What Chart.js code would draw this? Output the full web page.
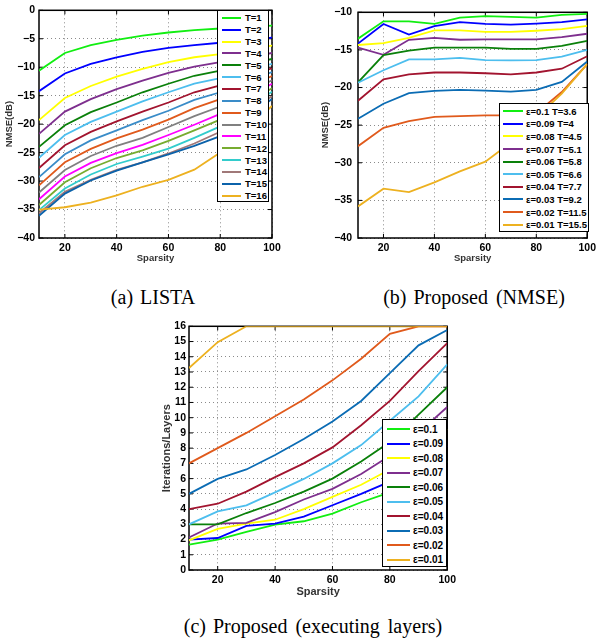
<!DOCTYPE html>
<html>
<head>
<meta charset="utf-8">
<script src="https://cdn.jsdelivr.net/npm/chart.js@4.4.1/dist/chart.umd.min.js"></script>
<style>
    body { margin: 0; background: #fff; }
    #page { position: relative; width: 600px; height: 644px; overflow: hidden; }
    canvas { position: absolute; }
    .legend {
        position: absolute; background: #fff; border: 1.5px solid #000;
        font-family: "Liberation Sans", Arial, sans-serif; font-weight: bold; color: #000;
        box-sizing: border-box;
    }
    .legend .item { display: flex; align-items: center; white-space: nowrap; }
    .legend .swatch { display: inline-block; height: 2px; }
    .cap {
        position: absolute; font-family: "Liberation Serif", "Times New Roman", serif;
        font-size: 20px; line-height: 23px; color: #000; white-space: nowrap; transform: translateX(-50%);
        word-spacing: 3px;
    }
    .cap b { font-weight: normal; margin-right: 7px; }
</style>
</head>
<body>
<div id="page">
    <canvas id="chartA" width="300" height="268" style="left:0;top:0"></canvas>
    <canvas id="chartB" width="281" height="268" style="left:319px;top:0"></canvas>
    <canvas id="chartC" width="310" height="286" style="left:150px;top:317px"></canvas>
    <div class="legend" id="legendA" style="left:217px;top:10px;width:52px;height:192px"></div>
    <div class="legend" id="legendB" style="left:499px;top:103px;width:90px;height:129px"></div>
    <div class="legend" id="legendC" style="left:382px;top:419px;width:65px;height:148px"></div>
    <div class="cap" style="left:153px;top:286px"><b>(a)</b>LISTA</div>
    <div class="cap" style="left:474px;top:286px"><b>(b)</b>Proposed (NMSE)</div>
    <div class="cap" style="left:313px;top:615px"><b>(c)</b>Proposed (executing layers)</div>
</div>
<script>
// sparsity levels on the x axis
const sparsity = [10, 20, 30, 40, 50, 60, 70, 80, 90, 100];
const xTicks = [20, 40, 60, 80, 100];

// (a) LISTA, NMSE per number of layers T
const listaLabels = ['T=1', 'T=2', 'T=3', 'T=4', 'T=5', 'T=6', 'T=7', 'T=8',
    'T=9', 'T=10', 'T=11', 'T=12', 'T=13', 'T=14', 'T=15', 'T=16'];
const listaColors = ['#11ee11', '#0000ff', '#ffff00', '#7e2f8e', '#0a800a', '#4dbeee', '#a2142f', '#3a8cc8',
    '#e05a1c', '#808080', '#ff00ff', '#77ac30', '#33cccc', '#a07878', '#0b62aa', '#edb120'];
const listaNmse = [
    [-10.6, -7.5, -6.1, -5.2, -4.45, -3.9, -3.5, -3.2, -2.9, -2.7],
    [-14.2, -11.1, -9.4, -8.25, -7.3, -6.6, -6.1, -5.7, -5.2, -4.8],
    [-19.3, -15.4, -13.3, -11.65, -10.3, -9.1, -8.25, -7.7, -6.9, -6.2],
    [-21.7, -17.8, -15.6, -13.85, -12.35, -11.0, -9.9, -9.1, -8.3, -7.5],
    [-24.0, -20.2, -17.9, -16.2, -14.4, -12.9, -11.5, -10.6, -9.5, -8.55],
    [-25.9, -21.9, -19.6, -17.8, -16.0, -14.4, -12.9, -11.9, -10.6, -9.4],
    [-27.7, -23.7, -21.35, -19.5, -17.8, -16.2, -14.4, -13.2, -11.6, -10.2],
    [-29.3, -25.3, -22.85, -21.1, -19.3, -17.65, -15.75, -14.4, -12.6, -10.85],
    [-30.75, -26.7, -24.35, -22.5, -20.95, -19.2, -17.2, -15.6, -13.6, -11.55],
    [-32.0, -28.05, -25.6, -23.8, -22.4, -20.5, -18.6, -16.9, -14.6, -12.3],
    [-33.2, -29.2, -26.8, -25.1, -23.65, -21.9, -20.1, -18.2, -15.5, -12.9],
    [-34.2, -30.2, -27.75, -25.95, -24.6, -22.95, -21.1, -19.2, -16.4, -13.7],
    [-35.1, -31.3, -28.85, -27.0, -25.7, -24.3, -22.4, -20.4, -17.4, -14.3],
    [-35.65, -31.9, -29.8, -28.05, -26.7, -25.15, -23.4, -21.35, -18.3, -15.1],
    [-36.1, -32.2, -29.9, -28.15, -26.7, -25.3, -23.8, -22.1, -18.8, -15.6],
    [-35.0, -34.6, -33.8, -32.5, -31.0, -29.8, -28.0, -25.0, -21.0, -16.8]
];

// (b) proposed, NMSE per threshold epsilon
const epsLabelsB = ['\u03b5=0.1 T=3.6', '\u03b5=0.09 T=4', '\u03b5=0.08 T=4.5', '\u03b5=0.07 T=5.1', '\u03b5=0.06 T=5.8',
    '\u03b5=0.05 T=6.6', '\u03b5=0.04 T=7.7', '\u03b5=0.03 T=9.2', '\u03b5=0.02 T=11.5', '\u03b5=0.01 T=15.5'];
const epsColors = ['#11ee11', '#0000ff', '#ffff00', '#7e2f8e', '#0a800a', '#4dbeee', '#a2142f', '#0b6cb4', '#e05a1c', '#edb120'];
const proposedNmse = [
    [-13.5, -11.2, -11.2, -11.55, -10.7, -10.5, -10.6, -10.7, -10.35, -10.2],
    [-14.15, -11.55, -12.95, -11.85, -11.3, -11.55, -11.65, -11.5, -11.3, -10.95],
    [-14.35, -14.1, -13.4, -12.4, -12.4, -12.6, -12.6, -12.45, -12.25, -11.8],
    [-14.7, -15.65, -13.65, -13.4, -13.65, -13.6, -13.6, -13.6, -13.3, -12.85],
    [-19.3, -15.7, -15.1, -14.7, -14.7, -14.7, -14.85, -14.85, -14.45, -13.8],
    [-19.35, -17.7, -16.25, -16.25, -16.05, -16.35, -16.4, -16.35, -15.9, -15.0],
    [-21.75, -18.9, -18.25, -18.0, -18.0, -18.1, -18.25, -18.0, -17.5, -15.85],
    [-24.15, -22.15, -20.75, -20.45, -20.3, -20.4, -20.55, -20.3, -19.25, -16.55],
    [-27.8, -25.35, -24.45, -23.9, -23.8, -23.7, -23.7, -23.4, -20.6, -16.9],
    [-35.8, -33.45, -33.9, -32.6, -31.15, -29.85, -27.3, -24.0, -20.8, -16.9]
];

// (c) proposed, executed layers per threshold epsilon
const epsLabelsC = ['\u03b5=0.1', '\u03b5=0.09', '\u03b5=0.08', '\u03b5=0.07', '\u03b5=0.06',
    '\u03b5=0.05', '\u03b5=0.04', '\u03b5=0.03', '\u03b5=0.02', '\u03b5=0.01'];
const proposedLayers = [
    [1.67, 2.0, 2.5, 2.98, 3.2, 3.7, 4.45, 5.1, 6.1, 7.13],
    [2.0, 2.1, 2.9, 3.05, 3.5, 4.25, 5.0, 5.8, 7.0, 8.15],
    [1.95, 2.7, 3.05, 3.3, 4.0, 4.8, 5.6, 6.6, 7.9, 9.25],
    [2.13, 3.05, 3.1, 3.8, 4.63, 5.33, 6.3, 7.5, 9.0, 10.7],
    [3.0, 3.0, 3.74, 4.4, 5.15, 6.0, 7.13, 8.4, 10.2, 12.0],
    [3.0, 3.85, 4.25, 5.1, 5.98, 7.0, 8.2, 9.8, 11.4, 13.5],
    [4.0, 4.35, 5.15, 6.1, 7.0, 8.05, 9.5, 11.1, 13.05, 14.9],
    [5.0, 5.98, 6.6, 7.55, 8.6, 9.75, 11.1, 12.93, 14.75, 15.76],
    [7.0, 8.0, 9.0, 10.1, 11.2, 12.45, 13.87, 15.5, 16, 16],
    [13.26, 14.96, 16, 16, 16, 16, 16, 16, 16, 16]
];

const tickFont = { family: 'Liberation Sans', size: 10.5, weight: 'bold' };

// matlab-like box with inward ticks on all four sides
const framePlugin = {
    id: 'frame',
    beforeDatasetsDraw(chart) {
        const { ctx, chartArea: a, scales: { x, y } } = chart;
        ctx.save();
        ctx.strokeStyle = '#000';
        ctx.lineWidth = 1;
        ctx.beginPath();
        x.ticks.forEach(t => {
            const px = x.getPixelForValue(t.value);
            ctx.moveTo(px, a.bottom); ctx.lineTo(px, a.bottom - 4);
            ctx.moveTo(px, a.top); ctx.lineTo(px, a.top + 4);
        });
        y.ticks.forEach(t => {
            const py = y.getPixelForValue(t.value);
            ctx.moveTo(a.left, py); ctx.lineTo(a.left + 4, py);
            ctx.moveTo(a.right, py); ctx.lineTo(a.right - 4, py);
        });
        ctx.stroke();
        ctx.lineWidth = 1.5;
        ctx.strokeRect(a.left, a.top, a.right - a.left, a.bottom - a.top);
        ctx.restore();
    }
};

function makeChart(id, labels, colors, values, cfg) {
    const datasets = values.map((row, i) => ({
        label: labels[i],
        data: row.map((v, j) => ({ x: sparsity[j], y: v })),
        borderColor: colors[i],
        borderWidth: 1.8,
        pointRadius: 0,
        tension: 0,
        order: values.length - i
    }));
    const minus = v => (v < 0 ? '\u2212' + Math.abs(v) : String(v));
    const titleFont = { family: 'Liberation Sans', size: cfg.titleSize, weight: 'bold' };
    return new Chart(document.getElementById(id), {
        type: 'line',
        data: { datasets },
        plugins: [framePlugin],
        options: {
            responsive: false,
            animation: false,
            layout: { padding: cfg.padding },
            plugins: { legend: { display: false }, tooltip: { enabled: false } },
            scales: {
                x: {
                    type: 'linear', min: 10, max: 100,
                    afterBuildTicks: s => { s.ticks = xTicks.map(v => ({ value: v })); },
                    afterFit: s => { s.height = cfg.xHeight; },
                    ticks: { font: tickFont, color: '#000', padding: 4, maxRotation: 0 },
                    grid: { color: '#8a8a8a', lineWidth: 1, drawTicks: false },
                    border: { display: false, dash: [1, 3] },
                    title: { display: true, text: 'Sparsity', font: titleFont, color: '#333', padding: { top: 0, bottom: 4 } }
                },
                y: {
                    min: cfg.yMin, max: cfg.yMax,
                    afterFit: s => { s.width = 39; },
                    ticks: { font: tickFont, color: '#000', padding: cfg.yTickPad, stepSize: cfg.yStep,
                        autoSkip: false, callback: minus },
                    grid: { color: '#8a8a8a', lineWidth: 1, drawTicks: false },
                    border: { display: false, dash: [1, 3] },
                    title: { display: true, text: cfg.yTitle, font: titleFont, color: '#333', padding: { top: cfg.yTitlePad, bottom: 0 } }
                }
            }
        }
    });
}

function makeLegend(id, labels, colors, opts) {
    const box = document.getElementById(id);
    box.style.padding = opts.pad;
    labels.forEach((lab, i) => {
        const item = document.createElement('div');
        item.className = 'item';
        item.style.height = opts.rowH + 'px';
        item.style.fontSize = opts.font + 'px';
        const sw = document.createElement('span');
        sw.className = 'swatch';
        sw.style.width = opts.swW + 'px';
        sw.style.background = colors[i];
        sw.style.marginRight = opts.gap + 'px';
        const tx = document.createElement('span');
        tx.innerText = lab;
        item.appendChild(sw);
        item.appendChild(tx);
        box.appendChild(item);
    });
}

makeChart('chartA', listaLabels, listaColors, listaNmse,
    { padding: { top: 7, right: 28, left: 0, bottom: 0 }, xHeight: 30, yMin: -40, yMax: 0, yStep: 5,
      yTitle: 'NMSE(dB)', yTitlePad: 4, yTickPad: 4, titleSize: 9.5 });
makeChart('chartB', epsLabelsB, epsColors, proposedNmse,
    { padding: { top: 7, right: 8, left: 0, bottom: 0 }, xHeight: 30, yMin: -40, yMax: -10, yStep: 5,
      yTitle: 'NMSE(dB)', yTitlePad: 1, yTickPad: 6, titleSize: 9.5 });
makeChart('chartC', epsLabelsC, epsColors, proposedLayers,
    { padding: { top: 8, right: 9, left: 0, bottom: 0 }, xHeight: 33, yMin: 0, yMax: 16, yStep: 1,
      yTitle: 'Iterations/Layers', yTitlePad: 10, yTickPad: 3, titleSize: 11 });

makeLegend('legendA', listaLabels, listaColors, { pad: '1px 0 0 4px', rowH: 11.85, font: 9.5, swW: 19, gap: 4 });
makeLegend('legendB', epsLabelsB, epsColors, { pad: '1px 0 0 3px', rowH: 12.6, font: 9.5, swW: 20, gap: 3 });
makeLegend('legendC', epsLabelsC, epsColors, { pad: '2px 0 0 4px', rowH: 14.5, font: 10, swW: 23, gap: 3 });
</script>
</body>
</html>
